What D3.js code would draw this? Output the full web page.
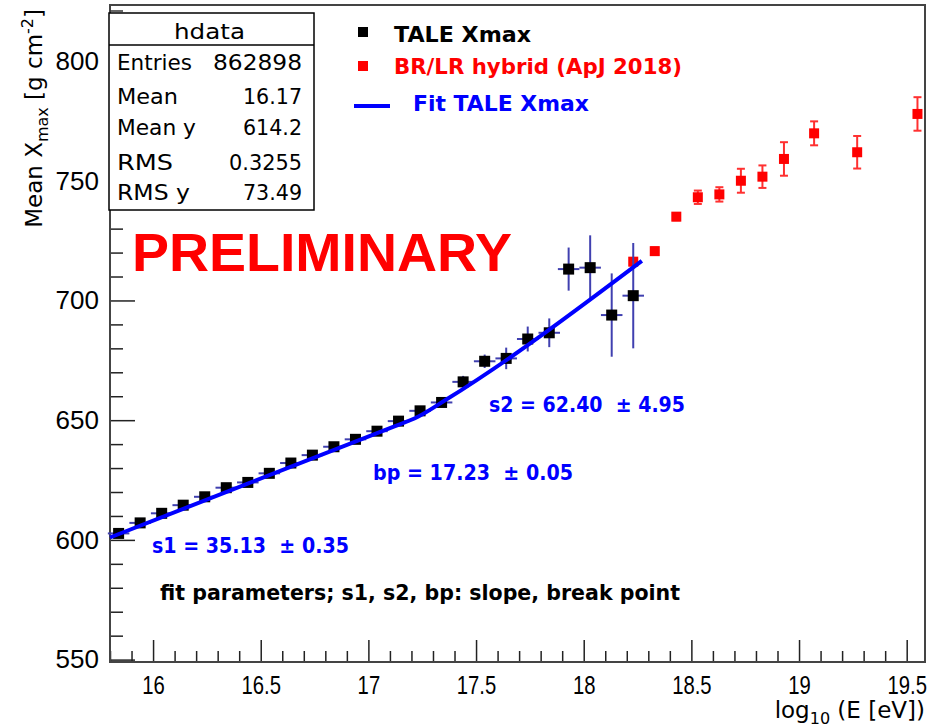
<!DOCTYPE html>
<html><head><meta charset="utf-8">
<script src="https://cdn.jsdelivr.net/npm/d3@7"></script>
<style>body{margin:0;background:#fff} svg{display:block}</style>
</head><body><svg id="c" width="931" height="728"></svg>
<script>
// ---- data ----
const taleX   = [15.84,15.94,16.04,16.14,16.24,16.34,16.44,16.54,16.64,16.74,16.84,16.94,17.04,17.14,17.24,17.34,17.44,17.54,17.64,17.74,17.84,17.93,18.03,18.13,18.23];
const taleY   = [602.7,607.1,611.1,614.5,618.0,621.8,624.0,627.8,632.1,635.4,638.9,642.0,645.4,649.6,653.9,657.4,666.0,674.6,675.8,683.9,686.5,713.1,713.7,693.9,702.0];
const taleErr = [0.8,0.8,0.8,0.8,0.8,0.9,0.9,1.0,1.0,1.1,1.2,1.3,1.4,1.6,1.8,2.0,2.5,2.8,4.5,5.2,6.0,9.0,13.5,17.4,22.0];
const taleXErr = 0.05;
const brlrX   = [18.23,18.33,18.43,18.53,18.63,18.73,18.83,18.93,19.07,19.27,19.55];
const brlrY   = [716.2,720.6,735.0,743.1,744.3,750.0,751.7,759.1,769.8,761.9,777.9];
const brlrErr = [1.5,1.5,1.5,2.8,3.0,5.0,4.7,7.0,5.0,6.8,7.0];
const fitX    = [15.80,17.10,17.23,17.36,18.27];
const fitY    = [601.0,646.7,651.4,658.5,716.5];
const xTicks  = [16,16.5,17,17.5,18,18.5,19,19.5];
const yTicks  = [550,600,650,700,750,800];
const statsLabels = ["Entries","Mean","Mean y","RMS","RMS y"];
const statsValues = ["862898","16.17","614.2","0.3255","73.49"];
const legendLabels = ["TALE Xmax","BR/LR hybrid (ApJ 2018)","Fit TALE Xmax"];
const fitTexts = ["s1 = 35.13  \u00b1 0.35","bp = 17.23  \u00b1 0.05","s2 = 62.40  \u00b1 4.95"];

// ---- layout ----
const svg = d3.select("#c");
const L = 110, R = 925, T = 5, B = 662;
const x = d3.scaleLinear().domain([15.8, 19.585]).range([L, R]);
const y = d3.scaleLinear().domain([549, 823.4]).range([B, T]);
const DJ = "'DejaVu Sans', sans-serif";
const AR = "'Liberation Sans', Arial, sans-serif";

// minor ticks
const xMinor = d3.range(15.8, 19.58, 0.1).map(v => +v.toFixed(2)).filter(v => !xTicks.includes(v));
const yMinor = d3.range(550, 823, 10).filter(v => !yTicks.includes(v));

const gx = svg.append("g").attr("transform", `translate(0,${B})`);
gx.call(d3.axisBottom(x).tickValues(xMinor).tickSize(-11).tickFormat(""));
gx.call(g => g.select(".domain").remove());
const gx2 = svg.append("g").attr("transform", `translate(0,${B})`);
gx2.call(d3.axisBottom(x).tickValues(xTicks).tickSize(-22).tickPadding(14).tickFormat(d3.format("")));
gx2.select(".domain").remove();
gx2.selectAll("text").attr("font-family", AR).attr("font-size", 26).attr("fill", "#000")
  .attr("transform", "scale(0.78,1)");

const gy = svg.append("g").attr("transform", `translate(${L},0)`);
gy.call(d3.axisLeft(y).tickValues(yMinor).tickSize(-13).tickFormat(""));
gy.select(".domain").remove();
const gy2 = svg.append("g").attr("transform", `translate(${L},0)`);
gy2.call(d3.axisLeft(y).tickValues(yTicks).tickSize(-25).tickPadding(11));
gy2.select(".domain").remove();
gy2.selectAll("text").attr("font-family", AR).attr("font-size", 26).attr("fill", "#000");
svg.selectAll(".tick line").attr("stroke", "#222").attr("stroke-width", 1.5);

// frame
svg.append("rect").attr("x", L).attr("y", T).attr("width", R - L).attr("height", B - T)
  .attr("fill", "none").attr("stroke", "#444").attr("stroke-width", 2);

// axis titles
const yt = svg.append("text").attr("transform", `translate(42,9) rotate(-90)`)
  .attr("text-anchor", "end").attr("font-family", DJ).attr("font-size", 23).attr("fill", "#000");
yt.append("tspan").text("Mean X");
yt.append("tspan").attr("dy", 6).attr("font-size", 16).text("max");
yt.append("tspan").attr("dy", -6).text(" [g cm");
yt.append("tspan").attr("dy", -9).attr("font-size", 16).text("-2");
yt.append("tspan").attr("dy", 9).text("]");

const xt = svg.append("text").attr("x", R).attr("y", 718)
  .attr("text-anchor", "end").attr("font-family", DJ).attr("font-size", 23).attr("fill", "#000");
xt.append("tspan").text("log");
xt.append("tspan").attr("dy", 6).attr("font-size", 16).text("10");
xt.append("tspan").attr("dy", -6).text(" (E [eV])");

// red BR/LR points
const red = svg.append("g");
brlrX.forEach((xv, i) => {
  const cx = x(xv), y1 = y(brlrY[i] + brlrErr[i]), y2 = y(brlrY[i] - brlrErr[i]);
  red.append("line").attr("x1", cx).attr("x2", cx).attr("y1", y1).attr("y2", y2).attr("stroke", "#ff3030").attr("stroke-width", 2);
  red.append("line").attr("x1", cx - 4).attr("x2", cx + 4).attr("y1", y1).attr("y2", y1).attr("stroke", "#ff3030").attr("stroke-width", 2);
  red.append("line").attr("x1", cx - 4).attr("x2", cx + 4).attr("y1", y2).attr("y2", y2).attr("stroke", "#ff3030").attr("stroke-width", 2);
  red.append("rect").attr("x", cx - 5).attr("y", y(brlrY[i]) - 5).attr("width", 10).attr("height", 10).attr("fill", "#ff0000");
});

// TALE points
const blk = svg.append("g");
taleX.forEach((xv, i) => {
  const cx = x(xv), cy = y(taleY[i]);
  blk.append("line").attr("x1", cx).attr("x2", cx).attr("y1", y(taleY[i] + taleErr[i])).attr("y2", y(taleY[i] - taleErr[i]))
    .attr("stroke", "#4040b0").attr("stroke-width", 2);
  blk.append("line").attr("x1", x(xv - taleXErr)).attr("x2", x(xv + taleXErr)).attr("y1", cy).attr("y2", cy)
    .attr("stroke", "#4040b0").attr("stroke-width", 2);
  blk.append("rect").attr("x", cx - 5.5).attr("y", cy - 5.5).attr("width", 11).attr("height", 11).attr("fill", "#000");
});

// fit line
svg.append("path").datum(fitX.map((v, i) => [v, fitY[i]]))
  .attr("d", d3.line().curve(d3.curveMonotoneX).x(d => x(d[0])).y(d => y(d[1])))
  .attr("fill", "none").attr("stroke", "#0000ff").attr("stroke-width", 4).attr("stroke-linejoin", "round");

// PRELIMINARY
svg.append("text").attr("x", 132).attr("y", 271).attr("font-family", AR).attr("font-weight", "bold")
  .attr("font-size", 54).attr("fill", "#ff0000").attr("textLength", 380).attr("lengthAdjust", "spacingAndGlyphs").text("PRELIMINARY");

// fit parameter texts
const fitPos = [[152, 553, 197], [373, 480, 200], [489, 412, 196]];
fitTexts.forEach((t, i) => {
  svg.append("text").attr("x", fitPos[i][0]).attr("y", fitPos[i][1])
    .attr("font-family", DJ).attr("font-weight", "bold").attr("font-size", 21).attr("fill", "#0000ff")
    .attr("textLength", fitPos[i][2]).attr("lengthAdjust", "spacingAndGlyphs")
    .style("white-space", "pre").text(t);
});
svg.append("text").attr("x", 160).attr("y", 600).attr("font-family", DJ).attr("font-weight", "bold")
  .attr("font-size", 20.5).attr("fill", "#000").attr("textLength", 520).attr("lengthAdjust", "spacingAndGlyphs")
  .text("fit parameters; s1, s2, bp: slope, break point");

// legend
svg.append("rect").attr("x", 358).attr("y", 27).attr("width", 10).attr("height", 10).attr("fill", "#000");
svg.append("rect").attr("x", 358).attr("y", 61).attr("width", 10).attr("height", 10).attr("fill", "#ff0000");
svg.append("line").attr("x1", 354).attr("x2", 390).attr("y1", 106).attr("y2", 106).attr("stroke", "#0000ff").attr("stroke-width", 4);
const legPos = [[394, 42, 137, "#000"], [394, 74, 288, "#ff0000"], [413, 111, 176, "#0000ff"]];
legendLabels.forEach((t, i) => {
  svg.append("text").attr("x", legPos[i][0]).attr("y", legPos[i][1]).attr("font-family", DJ).attr("font-weight", "bold")
    .attr("font-size", 21).attr("fill", legPos[i][3]).attr("textLength", legPos[i][2]).attr("lengthAdjust", "spacingAndGlyphs").text(t);
});

// stats box
svg.append("line").attr("x1", 110).attr("x2", 123).attr("y1", 11).attr("y2", 11).attr("stroke", "#333").attr("stroke-width", 1.5);
svg.append("rect").attr("x", 109).attr("y", 13).attr("width", 205).attr("height", 197).attr("fill", "#fff").attr("stroke", "#000").attr("stroke-width", 1.5);
svg.append("line").attr("x1", 109).attr("x2", 314).attr("y1", 45).attr("y2", 45).attr("stroke", "#000").attr("stroke-width", 1.5);
svg.append("text").attr("x", 209.5).attr("y", 39).attr("text-anchor", "middle").attr("font-family", DJ).attr("font-size", 22)
  .attr("textLength", 71).attr("lengthAdjust", "spacingAndGlyphs").text("hdata");
const rowY = [70, 104, 135, 170, 200];
const labW = [75, 61, 79, 56, 73];
const valW = [89, 59, 59, 73, 59];
statsLabels.forEach((t, i) => {
  svg.append("text").attr("x", 117).attr("y", rowY[i]).attr("font-family", DJ).attr("font-size", 22)
    .attr("textLength", labW[i]).attr("lengthAdjust", "spacingAndGlyphs").text(t);
  svg.append("text").attr("x", 302 - valW[i]).attr("y", rowY[i]).attr("font-family", DJ).attr("font-size", 22)
    .attr("textLength", valW[i]).attr("lengthAdjust", "spacingAndGlyphs").text(statsValues[i]);
});
</script></body></html>
